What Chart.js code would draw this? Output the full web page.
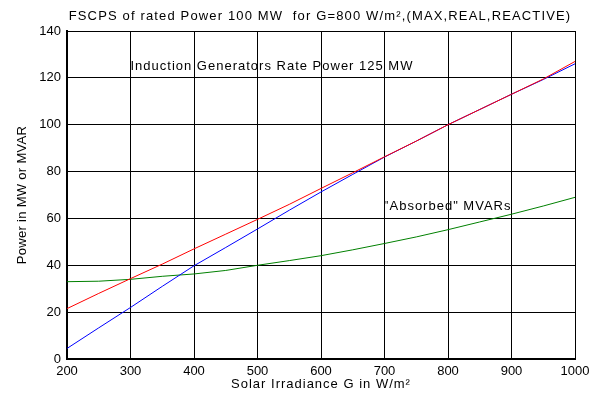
<!DOCTYPE html>
<html>
<head>
<meta charset="utf-8">
<script src="https://cdn.jsdelivr.net/npm/chart.js@4.4.0/dist/chart.umd.min.js"></script>
<style>
  html, body { margin: 0; padding: 0; background: #fff; }
  #wrap { width: 607px; height: 397px; position: relative; }
</style>
</head>
<body>
<div id="wrap"><canvas id="chart"></canvas></div>
<script>
// Solar irradiance samples (W/m2)
const irradiance = [200, 250, 300, 350, 400, 450, 500, 550, 600, 650, 700, 750, 800, 850, 900, 950, 1000];
// MAX power (red)
const maxPower = [21.5, 28, 34.3, 40.5, 47, 53.3, 59.6, 66, 72.8, 79.5, 86.3, 93, 100, 106.5, 113, 119.5, 127];
// REAL power (blue)
const realPower = [4.5, 13.3, 22, 31, 39.8, 47.6, 55.5, 63.5, 71.3, 78.8, 86.2, 93, 100, 106.5, 113, 119.3, 126];
// REACTIVE absorbed MVARs (green)
const reactivePower = [33, 33.2, 34, 35.3, 36.3, 37.8, 40, 42, 44.1, 46.6, 49.3, 52.1, 55.2, 58.5, 61.8, 65.3, 69];

const titleText = 'FSCPS of rated Power 100 MW  for G=800 W/m\u00B2,(MAX,REAL,REACTIVE)';
const xTitle = 'Solar Irradiance G in W/m\u00B2';
const yTitle = 'Power in MW or MVAR';
const notes = [
  { text: 'Induction Generators Rate Power 125 MW', x: 300, y: 125 },
  { text: '"Absorbed" MVARs', x: 699, y: 65 }
];

const FONT = 'Arial, "Liberation Sans", sans-serif';

function toPoints(ys) {
  return irradiance.map((x, i) => ({ x: x, y: ys[i] }));
}

// draws the titles and the text notes inside the plot
const textPlugin = {
  id: 'textPlugin',
  afterDraw(chart) {
    const ctx = chart.ctx;
    const xs = chart.scales.x, ys = chart.scales.y;
    const area = chart.chartArea;
    ctx.save();
    ctx.fillStyle = '#000';
    ctx.font = '13px ' + FONT;
    ctx.textBaseline = 'middle';
    ctx.textAlign = 'center';
    ctx.letterSpacing = '1.15px';
    ctx.fillText(titleText, 320, 16);
    ctx.letterSpacing = '1px';
    ctx.fillText(xTitle, (area.left + area.right) / 2, 384);
    ctx.textAlign = 'left';
    notes.forEach(n => {
      ctx.fillText(n.text, xs.getPixelForValue(n.x), ys.getPixelForValue(n.y));
    });
    ctx.letterSpacing = '0.3px';
    ctx.translate(22, (area.top + area.bottom) / 2);
    ctx.rotate(-Math.PI / 2);
    ctx.textAlign = 'center';
    ctx.fillText(yTitle, 0, 0);
    ctx.restore();
  }
};

new Chart(document.getElementById('chart'), {
  type: 'line',
  data: {
    datasets: [
      { label: 'MAX', data: toPoints(maxPower), borderColor: '#ff0000', borderWidth: 1 },
      { label: 'REAL', data: toPoints(realPower), borderColor: '#0000ff', borderWidth: 1 },
      { label: 'REACTIVE', data: toPoints(reactivePower), borderColor: '#008000', borderWidth: 1 }
    ]
  },
  options: {
    responsive: true,
    maintainAspectRatio: false,
    animation: false,
    events: [],
    elements: { point: { radius: 0 }, line: { tension: 0 } },
    layout: { padding: { top: 31, right: 32, left: 0, bottom: 0 } },
    plugins: {
      legend: { display: false },
      title: { display: false },
      tooltip: { enabled: false }
    },
    scales: {
      x: {
        type: 'linear',
        min: 200,
        max: 1000,
        afterFit(scale) { scale.height = 38; },
        ticks: {
          stepSize: 100,
          color: '#000',
          font: { family: FONT, size: 13 },
          padding: 5,
          callback: v => String(v)
        },
        grid: { color: '#000', lineWidth: 1, drawTicks: false },
        border: { color: '#000', width: 2 }
      },
      y: {
        min: 0,
        max: 140,
        afterFit(scale) { scale.width = 67; },
        ticks: { stepSize: 20, color: '#000', font: { family: FONT, size: 13 }, padding: 6 },
        grid: { color: '#000', lineWidth: 1, drawTicks: false },
        border: { color: '#000', width: 2 }
      }
    }
  },
  plugins: [textPlugin]
});
</script>
</body>
</html>
